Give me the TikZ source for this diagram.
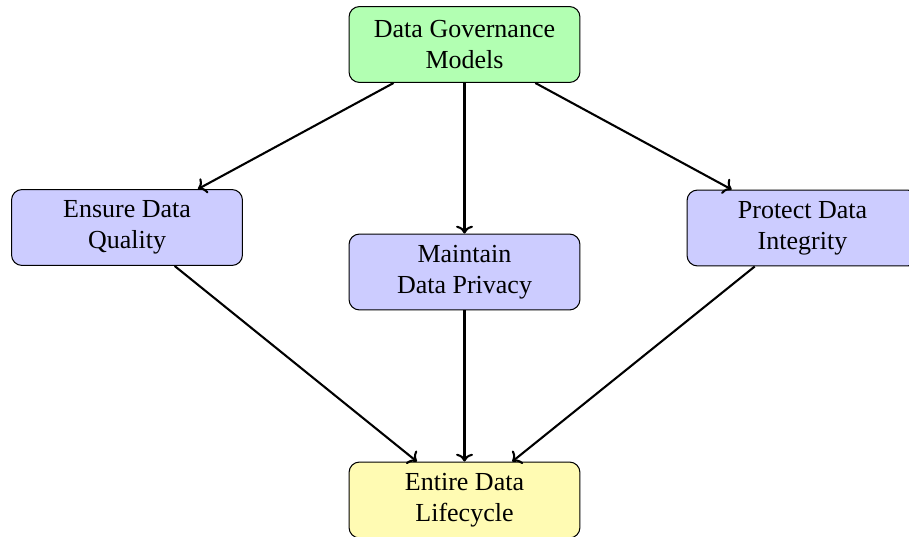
\documentclass[tikz,border=0pt]{standalone}
\usepackage{fontspec}
\setmainfont{Liberation Serif}
\usetikzlibrary{arrows.meta}
\begin{document}
\begin{tikzpicture}[x=0.01352cm,y=-0.01352cm,
  box/.style={draw, rounded corners=4pt, align=center, minimum width=88.8pt, minimum height=29.2pt, inner sep=2pt},
  arr/.style={-{To[width=6.5pt,length=3pt]}, thick}]
\useasboundingbox[clip] (0,0) rectangle (909,536);
\node[box, fill=green!30] (top) at (464.5,44.5) {Data Governance\\Models};
\node[box, fill=blue!20] (ens) at (127,227.5) {Ensure Data\\Quality};
\node[box, fill=blue!20] (mai) at (464.5,272) {Maintain\\Data Privacy};
\node[box, fill=blue!20] (pro) at (802.5,228) {Protect Data\\Integrity};
\node[box, fill=yellow!30] (bot) at (464.5,500) {Entire Data\\Lifecycle};
\draw[arr] (top) -- (ens);
\draw[arr] (top) -- (mai);
\draw[arr] (top) -- (pro);
\draw[arr] (ens) -- (bot);
\draw[arr] (mai) -- (bot);
\draw[arr] (pro) -- (bot);
\end{tikzpicture}
\end{document}
